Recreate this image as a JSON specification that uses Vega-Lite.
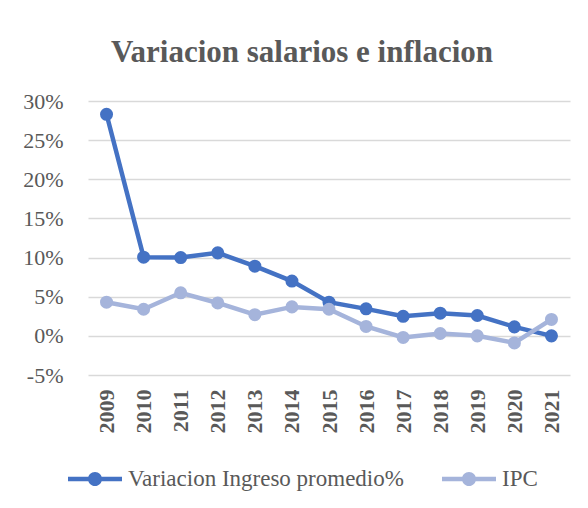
{
  "$schema": "https://vega.github.io/schema/vega-lite/v6.json",
  "width": 482,
  "height": 274,
  "autosize": {"type": "none"},
  "padding": {"left": 88, "top": 101, "right": 18, "bottom": 133},
  "background": "white",
  "title": {
    "text": "Variacion salarios e inflacion",
    "font": "Liberation Serif",
    "fontSize": 31,
    "fontWeight": "bold",
    "color": "#595959",
    "anchor": "middle",
    "frame": "group",
    "baseline": "alphabetic",
    "offset": -3,
    "dx": -27
  },
  "data": {
    "values": [
      {"year": "2009", "series": "Variacion Ingreso promedio%", "value": 0.283},
      {"year": "2010", "series": "Variacion Ingreso promedio%", "value": 0.1005},
      {"year": "2011", "series": "Variacion Ingreso promedio%", "value": 0.1},
      {"year": "2012", "series": "Variacion Ingreso promedio%", "value": 0.106},
      {"year": "2013", "series": "Variacion Ingreso promedio%", "value": 0.089},
      {"year": "2014", "series": "Variacion Ingreso promedio%", "value": 0.07},
      {"year": "2015", "series": "Variacion Ingreso promedio%", "value": 0.043},
      {"year": "2016", "series": "Variacion Ingreso promedio%", "value": 0.0345},
      {"year": "2017", "series": "Variacion Ingreso promedio%", "value": 0.025},
      {"year": "2018", "series": "Variacion Ingreso promedio%", "value": 0.029},
      {"year": "2019", "series": "Variacion Ingreso promedio%", "value": 0.026},
      {"year": "2020", "series": "Variacion Ingreso promedio%", "value": 0.0115},
      {"year": "2021", "series": "Variacion Ingreso promedio%", "value": 0.0},
      {"year": "2009", "series": "IPC", "value": 0.043},
      {"year": "2010", "series": "IPC", "value": 0.034},
      {"year": "2011", "series": "IPC", "value": 0.055},
      {"year": "2012", "series": "IPC", "value": 0.042},
      {"year": "2013", "series": "IPC", "value": 0.027},
      {"year": "2014", "series": "IPC", "value": 0.037},
      {"year": "2015", "series": "IPC", "value": 0.034},
      {"year": "2016", "series": "IPC", "value": 0.012},
      {"year": "2017", "series": "IPC", "value": -0.002},
      {"year": "2018", "series": "IPC", "value": 0.003},
      {"year": "2019", "series": "IPC", "value": 0.0},
      {"year": "2020", "series": "IPC", "value": -0.009},
      {"year": "2021", "series": "IPC", "value": 0.021}
    ]
  },
  "mark": {
    "type": "line",
    "strokeWidth": 4.5,
    "point": {"filled": true, "size": 170, "opacity": 1}
  },
  "encoding": {
    "x": {
      "field": "year",
      "type": "ordinal",
      "scale": {"type": "point", "padding": 0.5},
      "axis": {
        "title": null,
        "labelAngle": -90,
        "labelAlign": "right",
        "labelBaseline": "middle",
        "labelFont": "Times New Roman, Liberation Serif, serif",
        "labelFontSize": 22,
        "labelFontWeight": "bold",
        "labelColor": "#595959",
        "labelPadding": 14,
        "ticks": false,
        "domain": false,
        "grid": false
      }
    },
    "y": {
      "field": "value",
      "type": "quantitative",
      "scale": {"domain": [-0.05, 0.3], "nice": false, "zero": false},
      "axis": {
        "title": null,
        "values": [-0.05, 0, 0.05, 0.1, 0.15, 0.2, 0.25, 0.3],
        "labelExpr": "replace(format(datum.value, '.0%'), '\u2212', '-')",
        "labelFont": "Times New Roman, Liberation Serif, serif",
        "labelFontSize": 22,
        "labelColor": "#595959",
        "labelPadding": 25,
        "ticks": false,
        "domain": false,
        "gridColor": "#D9D9D9",
        "gridWidth": 1.5
      }
    },
    "color": {
      "field": "series",
      "type": "nominal",
      "scale": {
        "domain": ["Variacion Ingreso promedio%", "IPC"],
        "range": ["#4472C4", "#A5B4DB"]
      },
      "legend": {
        "title": null,
        "orient": "none",
        "direction": "horizontal",
        "legendX": -20,
        "legendY": 351,
        "symbolType": "M-1,-0.085H-0.245V0.085H-1Z M0.245,-0.085H1V0.085H0.245Z M-0.26,0A0.26,0.26 0 1,1 0.26,0A0.26,0.26 0 1,1 -0.26,0Z",
        "symbolSize": 2916,
        "symbolStrokeWidth": 0,
        "labelFont": "Times New Roman, Liberation Serif, serif",
        "labelFontSize": 23,
        "labelLimit": 400,
        "labelColor": "#595959",
        "labelOffset": 6,
        "columnPadding": 38,
        "encode": {
          "symbols": {
            "update": {
              "fill": {"scale": "color", "field": "value"},
              "fillOpacity": {"value": 1},
              "strokeWidth": {"value": 0}
            }
          }
        }
      }
    }
  },
  "config": {
    "font": "Liberation Serif",
    "view": {"stroke": null}
  }
}
